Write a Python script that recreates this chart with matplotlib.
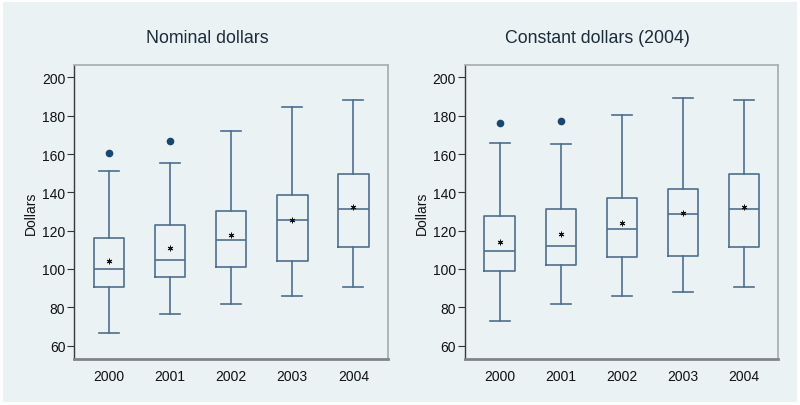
import matplotlib
matplotlib.use("Agg")
import matplotlib.pyplot as plt

plt.rcParams['font.family'] = ['Liberation Sans', 'DejaVu Sans']

years = ["2000", "2001", "2002", "2003", "2004"]

# nominal dollars
nom_whislo = [66.4, 76.3, 81.9, 85.9, 90.8]
nom_q1 = [90.4, 95.8, 100.9, 104.2, 111.6]
nom_med = [100.0, 104.7, 115.1, 125.4, 131.3]
nom_q3 = [116.2, 123.1, 130.5, 138.5, 149.8]
nom_whishi = [151.3, 155.2, 171.9, 184.6, 188.3]
nom_mean = [104.0, 111.0, 118.0, 125.7, 132.5]
nom_fliers = [[160.7], [166.7], [], [], []]

# constant 2004 dollars
con_whislo = [72.8, 81.6, 86.1, 88.2, 90.8]
con_q1 = [98.8, 102.1, 106.1, 107.0, 111.6]
con_med = [109.2, 111.8, 120.9, 128.6, 131.3]
con_q3 = [127.5, 131.3, 136.9, 141.9, 149.8]
con_whishi = [166.0, 165.4, 180.3, 189.5, 188.3]
con_mean = [113.9, 118.4, 124.2, 129.2, 132.5]
con_fliers = [[176.2], [177.4], [], [], []]

yticks = [60, 80, 100, 120, 140, 160, 180, 200]

bg = "#EAF2F3"
line_col = "#4F6F8F"

fig = plt.figure(figsize=(8, 4.06), dpi=100)
fig.patch.set_facecolor(bg)
fig.patch.set_edgecolor("white")
fig.patch.set_linewidth(3)


def make_stats(lo, q1, med, q3, hi, mean, fliers):
    stats = []
    for i in range(len(years)):
        stats.append(dict(whislo=lo[i], q1=q1[i], med=med[i], q3=q3[i],
                          whishi=hi[i], mean=mean[i], fliers=fliers[i]))
    return stats


panels = [
    ("Nominal dollars", 0.0929, make_stats(nom_whislo, nom_q1, nom_med, nom_q3,
                                           nom_whishi, nom_mean, nom_fliers)),
    ("Constant dollars (2004)", 0.5813, make_stats(con_whislo, con_q1, con_med, con_q3,
                                                   con_whishi, con_mean, con_fliers)),
]

for title, left, stats in panels:
    ax = fig.add_axes([left, 0.1133, 0.3918, 0.7241])
    ax.set_facecolor(bg)
    ax.bxp(stats, positions=range(1, 6), widths=0.5, capwidths=0.33,
           showmeans=True, patch_artist=False,
           boxprops=dict(color=line_col, linewidth=1.2),
           medianprops=dict(color=line_col, linewidth=1.2),
           whiskerprops=dict(color=line_col, linewidth=1.2),
           capprops=dict(color=line_col, linewidth=1.2),
           meanprops=dict(marker=(6, 2, 0), markersize=4, markeredgecolor="#111111",
                          markeredgewidth=0.7, markerfacecolor="#111111"),
           flierprops=dict(marker="o", markersize=4.5, markerfacecolor="#1A476F",
                           markeredgecolor="#1A476F"))
    ax.set_xlim(0.432, 5.563)
    ax.set_ylim(53, 206.5)
    ax.set_xticks(range(1, 6))
    ax.set_xticklabels(years, fontsize=10, color="#111111")
    ax.tick_params(axis="x", length=0, pad=7)
    ax.set_yticks(yticks)
    ax.set_yticklabels([str(v) for v in yticks], fontsize=10, color="#111111")
    ax.tick_params(axis="y", length=5, width=0.8, color="#333333", pad=1.5)
    ax.set_ylabel("Dollars", fontsize=10, color="#111111", labelpad=3)
    ax.spines["left"].set_color("#3a3a3a")
    ax.spines["left"].set_linewidth(1.0)
    ax.spines["bottom"].set_color("#808589")
    ax.spines["bottom"].set_linewidth(2.0)
    ax.spines["top"].set_color("#A9B1B5")
    ax.spines["right"].set_color("#A9B1B5")
    ax.spines["top"].set_linewidth(1.3)
    ax.spines["right"].set_linewidth(1.3)
    cx = (left - 0.0929) + 0.2588
    fig.text(cx, 0.894, title, ha="center", va="baseline", fontsize=12.8, color="#1c2b3a")

fig.savefig("out.png", dpi=100, facecolor=fig.get_facecolor(), edgecolor="white")
